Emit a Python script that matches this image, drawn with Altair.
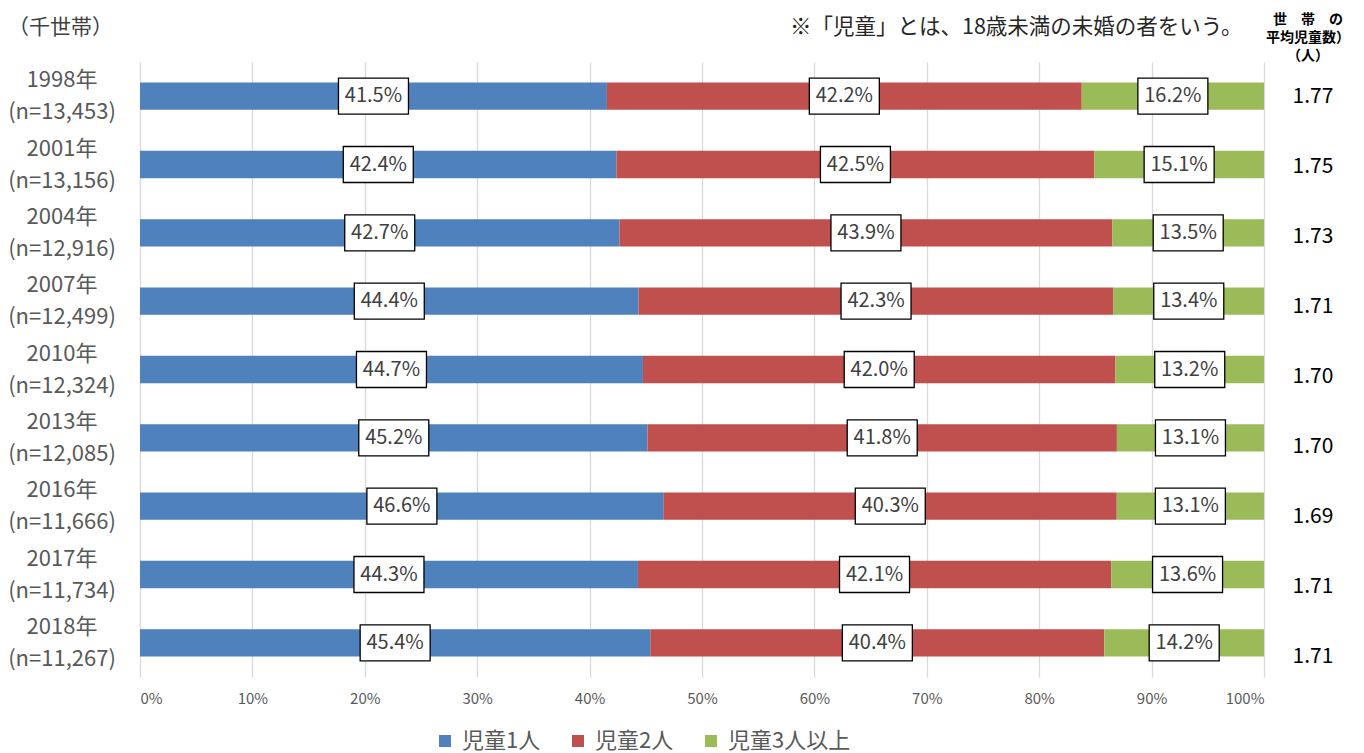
import altair as alt
import pandas as pd

# ---------------- data ----------------
years = ["1998年", "2001年", "2004年", "2007年", "2010年", "2013年", "2016年", "2017年", "2018年"]
n_values = ["13,453", "13,156", "12,916", "12,499", "12,324", "12,085", "11,666", "11,734", "11,267"]
one_child = [41.5, 42.4, 42.7, 44.4, 44.7, 45.2, 46.6, 44.3, 45.4]
two_children = [42.2, 42.5, 43.9, 42.3, 42.0, 41.8, 40.3, 42.1, 40.4]
three_plus = [16.2, 15.1, 13.5, 13.4, 13.2, 13.1, 13.1, 13.6, 14.2]
avg_children = ["1.77", "1.75", "1.73", "1.71", "1.70", "1.70", "1.69", "1.71", "1.71"]
categories = ["児童1人", "児童2人", "児童3人以上"]
colors = ["#4F81BD", "#C0504D", "#9BBB59"]
x_ticks = [0, 0.1, 0.2, 0.3, 0.4, 0.5, 0.6, 0.7, 0.8, 0.9, 1.0]

unit_label = "（千世帯）"
note_text = "※「児童」とは、18歳未満の未婚の者をいう。"
avg_header = ["世　帯　の", "平均児童数）", "（人）"]

FONT = "Noto Sans CJK JP"

# ---------------- tables ----------------
rows = []
for i, y in enumerate(years):
    for k, (cat, series) in enumerate(zip(categories, [one_child, two_children, three_plus])):
        rows.append({"year": y, "cat": cat, "order": k, "value": series[i],
                     "label": f"{series[i]:.1f}%"})
long_df = pd.DataFrame(rows)

row_df = pd.DataFrame({
    "year": years,
    "ylabel": [f"{y}\n(n={n})" for y, n in zip(years, n_values)],
    "avg": avg_children,
})

band_scale = alt.Scale(paddingInner=0.6, paddingOuter=0.3)
y_band = alt.Y("year:N", sort=years, scale=band_scale, axis=None)

stacked = alt.Chart(long_df).transform_stack(
    stack="value", groupby=["year"], as_=["v0", "v1"],
    sort=[alt.SortField("order", order="ascending")], offset="normalize"
).transform_calculate(mid="(datum.v0 + datum.v1) / 2")

bars = stacked.mark_bar().encode(
    x=alt.X("v0:Q", scale=alt.Scale(domain=[0, 1], nice=False),
            axis=alt.Axis(values=x_ticks, format=".0%", grid=True, gridColor="#d9d9d9",
                          gridWidth=1.3, domain=False, ticks=False, labelFontSize=15,
                          labelColor="#595959", labelPadding=14, title=None)),
    x2="v1:Q",
    y=y_band,
    color=alt.Color("cat:N", sort=categories,
                    scale=alt.Scale(domain=categories, range=colors),
                    legend=alt.Legend(orient="none", legendX=294, legendY=668,
                                      direction="horizontal", title=None,
                                      symbolType="square", symbolSize=144,
                                      symbolStrokeWidth=0, labelFontSize=22,
                                      labelColor="#595959", labelOffset=6,
                                      columnPadding=26, padding=0)),
)

box_path = "M-1,-0.514L1,-0.514L1,0.514L-1,0.514Z"
boxes = stacked.mark_point(shape=box_path, size=4900, filled=True, fill="white",
                           stroke="black", strokeWidth=1.3, opacity=1).encode(
    x=alt.X("mid:Q"), y=y_band)

pct_text = stacked.mark_text(fontSize=20, color="#404040").encode(
    x=alt.X("mid:Q"), y=y_band, text="label:N")

left_labels = alt.Chart(row_df).mark_text(
    lineBreak="\n", align="center", baseline="middle", fontSize=22, lineHeight=32,
    dy=-16, color="#595959").encode(x=alt.value(-78), y=y_band, text="ylabel:N")

right_vals = alt.Chart(row_df).mark_text(fontSize=21, color="black").encode(
    x=alt.value(1173),
    y=alt.Y("year:N", sort=years, scale=alt.Scale(type="point", padding=0.393, align=0.636),
            axis=None),
    text="avg:N")

unit_txt = alt.Chart(pd.DataFrame({"t": [unit_label]})).mark_text(
    align="left", baseline="middle", fontSize=21, color="#404040").encode(
    x=alt.value(-132), y=alt.value(-34), text="t:N")

note_txt = alt.Chart(pd.DataFrame({"t": [note_text]})).mark_text(
    align="left", baseline="middle", fontSize=21.5, color="#262626").encode(
    x=alt.value(650), y=alt.value(-34), text="t:N")

header_df = pd.DataFrame({"t": avg_header, "line": [0, 1, 2]})
header_txt = alt.Chart(header_df).mark_text(
    align="center", baseline="middle", fontSize=14, fontWeight="bold",
    color="black").encode(
    x=alt.value(1168),
    y=alt.Y("line:O", scale=alt.Scale(type="point", range=[-42, -6], padding=0),
            axis=None),
    text="t:N")

chart = alt.layer(
    bars, boxes, pct_text, left_labels, right_vals, unit_txt, note_txt, header_txt
).resolve_scale(y="independent").properties(
    width=1124, height=615,
    padding={"left": 132, "top": 54, "right": 92, "bottom": 76},
    autosize=alt.AutoSizeParams(type="none"),
).configure(font=FONT).configure_view(stroke=None)

chart.save("out.html", embed_options={"renderer": "svg", "actions": False})
